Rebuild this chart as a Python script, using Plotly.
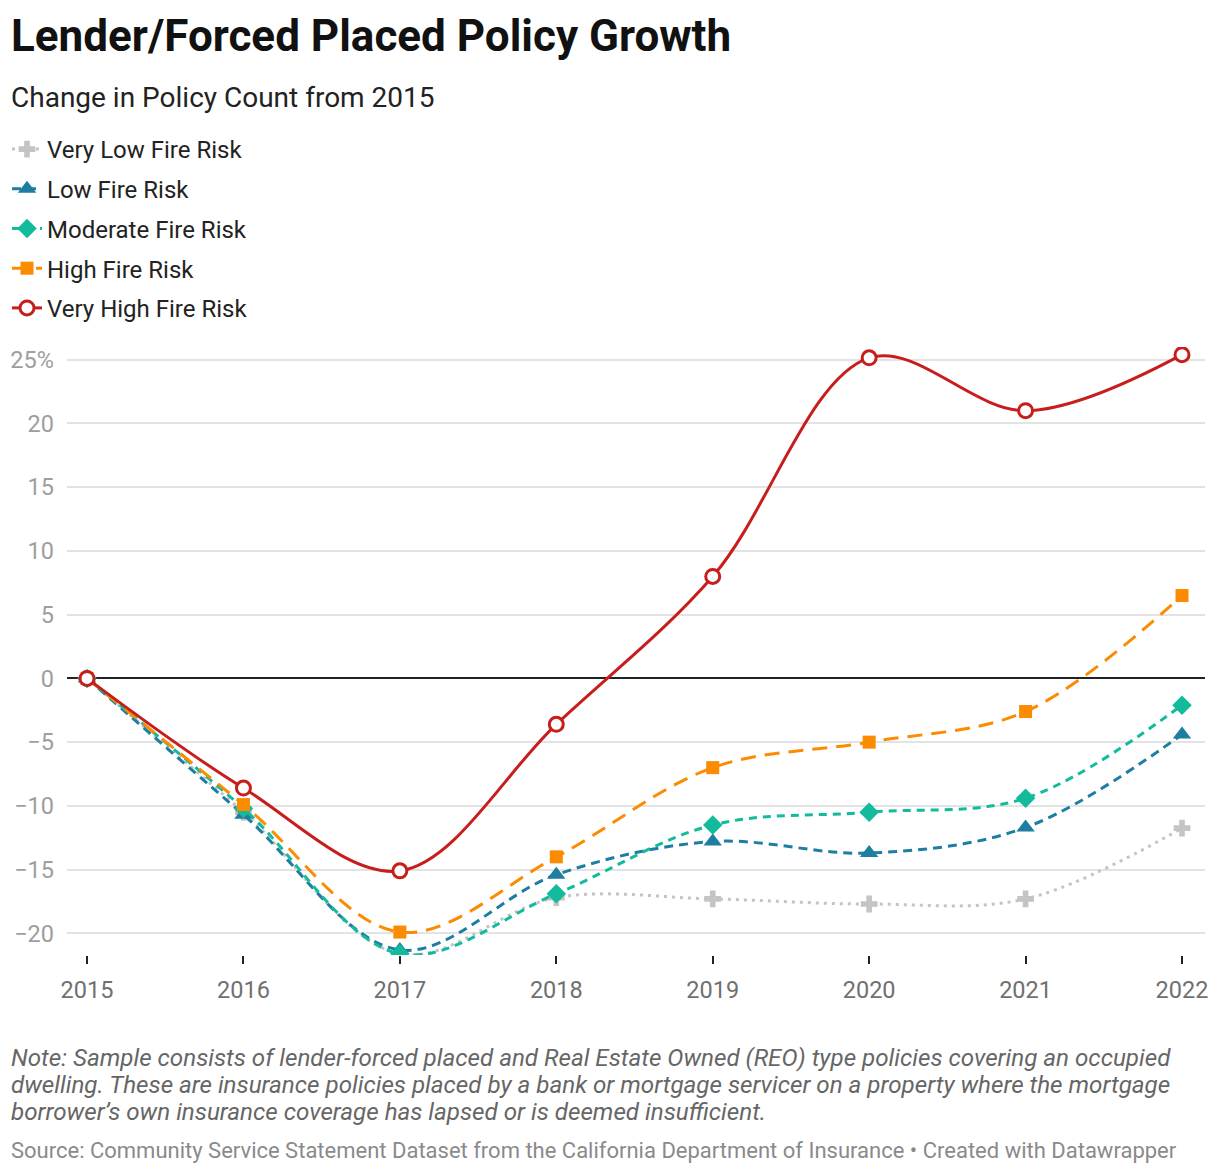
import plotly.graph_objects as go

years = [2015, 2016, 2017, 2018, 2019, 2020, 2021, 2022]
very_low = [0, -10.5, -21.6, -17.2, -17.3, -17.7, -17.3, -11.75]
low = [0, -10.7, -21.3, -15.4, -12.8, -13.7, -11.7, -4.4]
moderate = [0, -10.2, -21.6, -16.9, -11.5, -10.5, -9.4, -2.1]
high = [0, -9.9, -19.9, -14.0, -7.0, -5.0, -2.6, 6.5]
very_high = [0, -8.6, -15.1, -3.6, 8.0, 25.15, 21.0, 25.4]

series_names = ["Very Low Fire Risk", "Low Fire Risk", "Moderate Fire Risk",
                "High Fire Risk", "Very High Fire Risk"]
y_ticks = [-20, -15, -10, -5, 0, 5, 10, 15, 20, 25]
y_ticktext = ["−20", "−15", "−10", "−5", "0", "5", "10", "15", "20", "25%"]

note_lines = [
    "Note: Sample consists of lender-forced placed and Real Estate Owned (REO) type policies covering an occupied",
    "dwelling. These are insurance policies placed by a bank or mortgage servicer on a property where the mortgage",
    "borrower’s own insurance coverage has lapsed or is deemed insufficient.",
]
source_text = "Source: Community Service Statement Dataset from the California Department of Insurance • Created with Datawrapper"

styles = [
    dict(color="#c4c4c4", dash="3px,5px", symbol="cross", size=14, fill="#c4c4c4", lw=0),
    dict(color="#1d7ea1", dash="9px,6px", symbol="triangle-up", size=16, fill="#1d7ea1", lw=0),
    dict(color="#12bb9c", dash="8px,6px", symbol="diamond", size=15, fill="#12bb9c", lw=0),
    dict(color="#fb8b00", dash="15px,9px", symbol="square", size=13, fill="#fb8b00", lw=0),
    dict(color="#c71e1d", dash="solid", symbol="circle", size=14, fill="#ffffff", lw=3),
]

# plot area in page coordinates of the plotly div
FW, FH = 1220, 1176
L, R, T, B = 59, 1197, 339, 947
W, H = R - L, B - T

def px(x):
    return (x - L) / W

def py(y):
    return (B - y) / H

fig = go.Figure()
for i, (name, vals, st) in enumerate(zip(series_names, [very_low, low, moderate, high, very_high], styles)):
    fig.add_trace(go.Scatter(
        x=years, y=vals, name=name, mode="lines+markers",
        legendgroup=str(i),
        line=dict(color=st["color"], width=3, dash=st["dash"], shape="spline", smoothing=1.0),
        marker=dict(symbol=st["symbol"], size=st["size"], color=st["fill"],
                    line=dict(color=st["color"], width=st["lw"])),
        hoverinfo="skip",
    ))

fig.update_layout(
    width=FW, height=FH,
    margin=dict(l=L, r=FW - R, t=T, b=FH - B, autoexpand=False),
    paper_bgcolor="white", plot_bgcolor="white",
    font=dict(family="Roboto", color="#222"),
    showlegend=True,
    legend=dict(xref="container", yref="container",
                x=0, xanchor="left", y=1 - 119 / FH, yanchor="top",
                indentation=-1,
                font=dict(size=24, color="#222"), tracegroupgap=5.5,
                itemwidth=30, bgcolor="rgba(0,0,0,0)"),
    xaxis=dict(range=[2014.872, 2022.147], tickvals=years, ticktext=[str(y) for y in years],
               showgrid=False, zeroline=False, showline=False, automargin=False,
               ticks="outside", ticklen=8, tickwidth=2, tickcolor="#222",
               ticklabelstandoff=6,
               tickfont=dict(size=23.5, color="#707070")),
    yaxis=dict(range=[-21.7, 26.0], tickvals=y_ticks, ticktext=y_ticktext,
               showgrid=True, gridcolor="#e3e3e3", gridwidth=2,
               zeroline=True, zerolinecolor="#222", zerolinewidth=2,
               showline=False, ticks="", ticklabelstandoff=12, automargin=False,
               tickfont=dict(size=23.5, color="#9e9e9e")),
)

fig.add_annotation(text="<b>Lender/Forced Placed Policy Growth</b>", xref="paper", yref="paper",
                   x=px(1), y=py(28), xanchor="left", yanchor="middle",
                   showarrow=False, font=dict(size=44, color="#111", family="Roboto"))
fig.add_annotation(text="Change in Policy Count from 2015", xref="paper", yref="paper",
                   x=px(1), y=py(89), xanchor="left", yanchor="middle",
                   showarrow=False, font=dict(size=28, color="#222", family="Roboto"))
for k, line in enumerate(note_lines):
    fig.add_annotation(text="<i>" + line + "</i>", xref="paper", yref="paper",
                       x=px(1), y=py(1050 + 27 * k), xanchor="left", yanchor="middle",
                       align="left", showarrow=False,
                       font=dict(size=24.2, color="#666", family="Roboto"))
fig.add_annotation(text=source_text, xref="paper", yref="paper",
                   x=px(1), y=py(1142), xanchor="left", yanchor="middle",
                   align="left", showarrow=False, font=dict(size=22, color="#8a8a8a", family="Roboto"))

fig.write_html("out.html")
